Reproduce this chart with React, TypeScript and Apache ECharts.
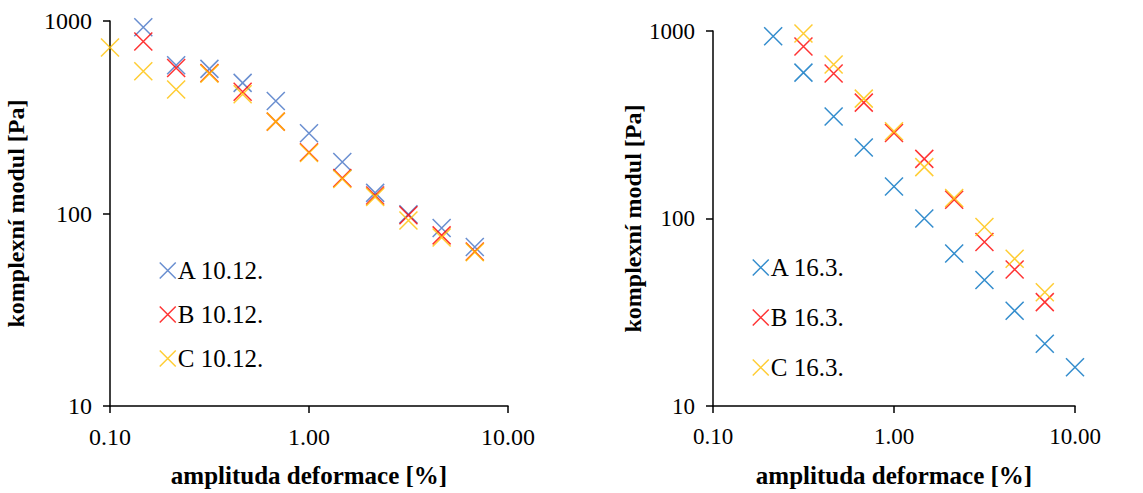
import React, { useEffect, useRef } from "react";
import * as echarts from "echarts";

const xValues = [0.1, 0.147, 0.215, 0.316, 0.464, 0.681, 1, 1.47, 2.15, 3.16, 4.64, 6.81, 10];

// Left chart (10.12.)
const leftNames = ["A 10.12.", "B 10.12.", "C 10.12."];
const leftA = [null, 929, 589, 564, 477, 384, 261, 185, 128, 99, 84, 67, null];
const leftB = [null, 782, 570, 537, 429, 300, 208, 153, 124, 98, 77, 63.5, null];
const leftC = [728, 548, 441, 533, 416, 300, 206, 151, 122, 92, 75, 63, null];

// Right chart (16.3.)
const rightNames = ["A 16.3.", "B 16.3.", "C 16.3."];
const rightA = [null, null, 938, 600, 350, 239, 148, 100, 65, 47, 32.2, 21.5, 16.1];
const rightB = [null, null, null, 826, 594, 415, 286, 208, 126, 75, 53.5, 35.8, null];
const rightC = [null, null, null, 969, 662, 436, 292, 188, 128.5, 90, 61, 40.4, null];

const leftColors = ["#4472C4", "#FF0000", "#FFC000"];
const rightColors = ["#0070C0", "#FF0000", "#FFC000"];

const xTicks = ["0.10", "1.00", "10.00"];
const yTicks = ["10", "100", "1000"];

const CROSS = "path://M0,0L10,10M10,0L0,10";
const FONT = "'Liberation Serif', 'Times New Roman', serif";

function pairs(vals: (number | null)[]) {
  const out: number[][] = [];
  vals.forEach((v, i) => {
    if (v != null) out.push([xValues[i], v]);
  });
  return out;
}

export default function App() {
  const ref = useRef<HTMLDivElement>(null);
  useEffect(() => {
    document.body.style.margin = "0";
    const chart = echarts.init(ref.current!, null, { renderer: "svg" });
    const axisCommon = {
      axisLine: { show: true, lineStyle: { color: "#000", width: 1.5 } },
      axisTick: { show: true, inside: false, length: 7, lineStyle: { color: "#000", width: 1.5 } },
      splitLine: { show: false },
      minorTick: { show: false },
    };
    const xAxis = (gridIndex: number, fs: number) => ({
      type: "log",
      logBase: 10,
      min: 0.1,
      max: 10,
      gridIndex,
      ...axisCommon,
      axisLabel: {
        color: "#000",
        fontFamily: FONT,
        fontSize: fs,
        margin: 19,
        formatter: (v: number) => {
          const idx = Math.round(Math.log10(v)) + 1;
          return xTicks[idx] ?? v.toFixed(2);
        },
      },
      name: "amplituda deformace [%]",
      nameLocation: "middle",
      nameGap: 57,
      nameTextStyle: { color: "#000", fontFamily: FONT, fontSize: 25, fontWeight: "bold" },
    });
    const yAxis = (gridIndex: number, fs: number, gap: number) => ({
      type: "log",
      logBase: 10,
      min: 10,
      max: 1000,
      gridIndex,
      ...axisCommon,
      axisLabel: {
        color: "#000",
        fontFamily: FONT,
        fontSize: fs,
        margin: 18,
        formatter: (v: number) => {
          const idx = Math.round(Math.log10(v)) - 1;
          return yTicks[idx] ?? String(v);
        },
      },
      name: "komplexní modul [Pa]",
      nameLocation: "middle",
      nameGap: gap,
      nameTextStyle: { color: "#000", fontFamily: FONT, fontSize: 24, fontWeight: "bold" },
    });
    const mk = (name: string, data: number[][], color: string, idx: number) => ({
      name,
      type: "scatter",
      xAxisIndex: idx,
      yAxisIndex: idx,
      symbol: CROSS,
      symbolSize: 18,
      data,
      itemStyle: { color: "transparent", borderColor: color, borderWidth: 1.5 },
      emphasis: { disabled: true },
    });
    const legend = (names: string[], left: number, top: number, gap: number) => ({
      data: names,
      orient: "vertical",
      left,
      top,
      itemGap: gap,
      itemWidth: 16,
      itemHeight: 16,
      icon: CROSS,
      textStyle: { color: "#000", fontFamily: FONT, fontSize: 25, padding: [0, 0, 0, -3] },
      itemStyle: { color: "transparent", borderColor: "inherit", borderWidth: 1.5 },
    });
    chart.setOption({
      animation: false,
      grid: [
        { left: 110, top: 21, width: 398, height: 388 },
        { left: 713, top: 31, width: 362, height: 383 },
      ],
      xAxis: [xAxis(0, 24), xAxis(1, 23)],
      yAxis: [yAxis(0, 24, 82), yAxis(1, 23, 67)],
      legend: [legend(leftNames, 154, 253, 19), legend(rightNames, 747, 250, 25)],
      series: [
        mk(leftNames[0], pairs(leftA), leftColors[0], 0),
        mk(leftNames[1], pairs(leftB), leftColors[1], 0),
        mk(leftNames[2], pairs(leftC), leftColors[2], 0),
        mk(rightNames[0], pairs(rightA), rightColors[0], 1),
        mk(rightNames[1], pairs(rightB), rightColors[1], 1),
        mk(rightNames[2], pairs(rightC), rightColors[2], 1),
      ],
    });
    return () => chart.dispose();
  }, []);
  return <div ref={ref} style={{ width: 1143, height: 493 }} />;
}
